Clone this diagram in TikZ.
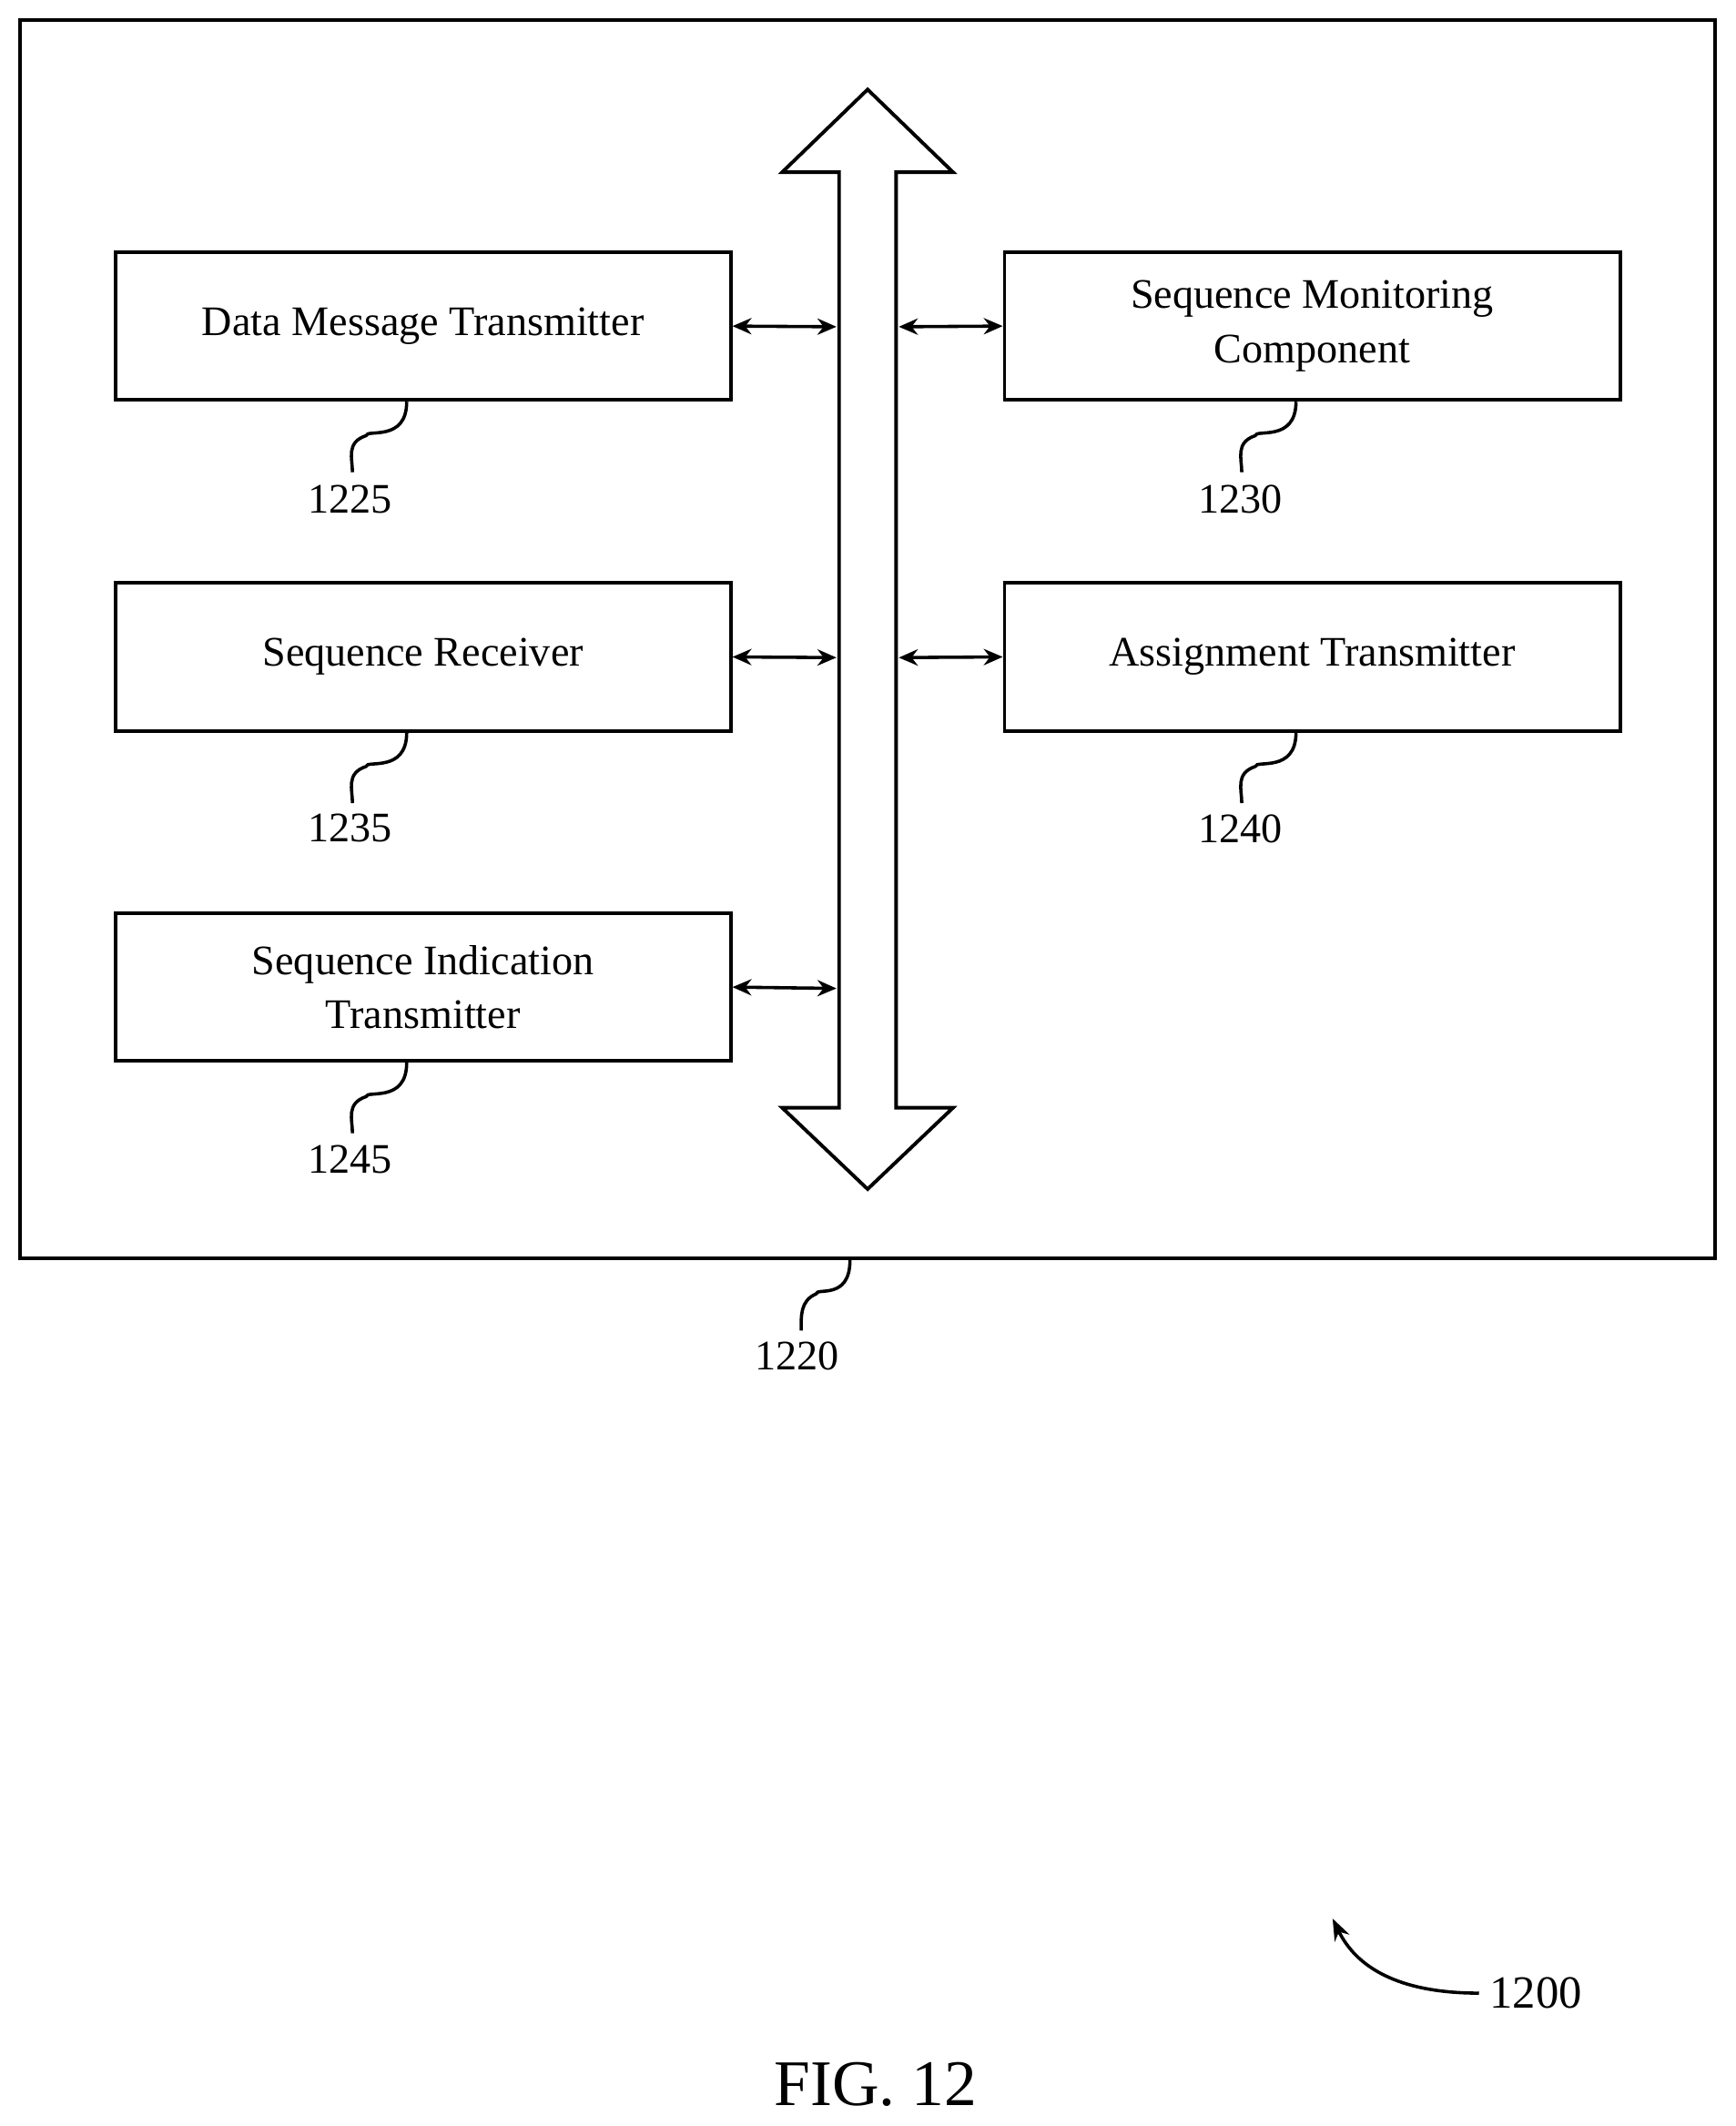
\documentclass[tikz,border=0pt]{standalone}
\usepackage{fontspec}
\setmainfont{Liberation Serif}
\usetikzlibrary{arrows.meta}
\begin{document}
\begin{tikzpicture}[x=0.5pt,y=-0.5pt,line width=1.3pt,
  box/.style={draw,minimum width=227pt,minimum height=54.5pt,align=center,font=\fontsize{15.5}{20}\selectfont,inner sep=0pt},
  lbl/.style={font=\fontsize{15.5}{18}\selectfont},
  dbl/.style={{Stealth[length=7pt,width=6pt]}-{Stealth[length=7pt,width=6pt]},line width=1.2pt},
  lead/.style={line width=1.2pt}]
\useasboundingbox (0,0) rectangle (1280,1568);
\node[draw,minimum width=625pt,minimum height=456.5pt,inner sep=0pt] (outer) at (640,471.5) {};
\draw (640,66) -- (703,127) -- (661,127) -- (661,817) -- (703,817) -- (640,877) -- (577,817) -- (619,817) -- (619,127) -- (577,127) -- cycle;
\coordinate (bl1) at (617,241); \coordinate (bl2) at (617,485); \coordinate (bl3) at (617,729);
\coordinate (br1) at (663,241); \coordinate (br2) at (663,485);
\node[box] (dmt) at (312,240.5) {Data Message Transmitter};
\node[box] (smc) at (968,240.5) {Sequence Monitoring\\Component};
\node[box] (sr) at (312,484.5) {Sequence Receiver};
\node[box] (at) at (968,484.5) {Assignment Transmitter};
\node[box] (sit) at (312,728) {Sequence Indication\\Transmitter};
\draw[dbl] (dmt.east) -- (bl1);
\draw[dbl] (sr.east) -- (bl2);
\draw[dbl] (sit.east) -- (bl3);
\draw[dbl] (br1) -- (smc.west);
\draw[dbl] (br2) -- (at.west);
\node[lbl] (l1225) at (258,368) {1225};
\node[lbl] (l1230) at (915,368) {1230};
\node[lbl] (l1235) at (258,611) {1235};
\node[lbl] (l1240) at (915,611) {1240};
\node[lbl] (l1245) at (258,855) {1245};
\node[lbl] (l1220) at (588,1000) {1220};
\foreach \b/\l/\x in {dmt/l1225/300, sr/l1235/300, sit/l1245/300, smc/l1230/956, at/l1240/956}{
  \draw[lead] (\b.south -| \x,0) .. controls +(0,30) and +(0,-5) .. +(-30,25) .. controls +(-15,5) and +(0,-10) .. +(-40,52);
}
\draw[lead] (outer.south -| 627,0) .. controls +(0,30) and +(0,-5) .. +(-25,25) .. controls +(-12,5) and +(0,-10) .. +(-36,52);
\node[lbl,font=\fontsize{17}{20}\selectfont] (l1200) at (1133,1470) {1200};
\draw[lead,-{Stealth[length=8pt,width=6pt]}] (l1200.west) .. controls (1030,1470) and (1000,1450) .. (983,1415);
\node[font=\fontsize{24}{28}\selectfont] (fig) at (646,1537) {FIG. 12};
\end{tikzpicture}
\end{document}
